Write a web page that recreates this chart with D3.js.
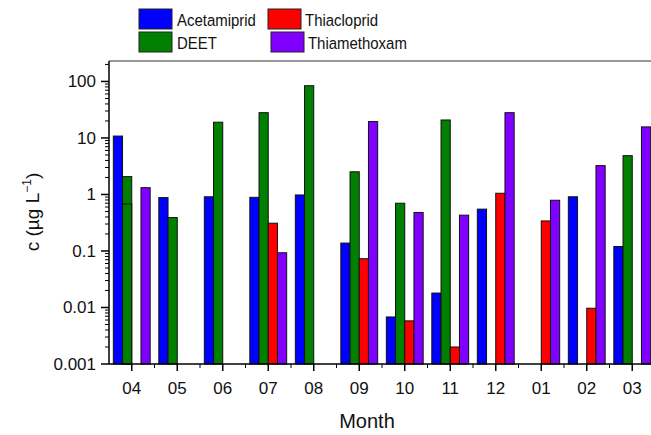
<!DOCTYPE html>
<html>
<head>
<meta charset="utf-8">
<script src="https://cdn.jsdelivr.net/npm/d3@7"></script>
<style>
  html, body { margin: 0; padding: 0; background: #ffffff; }
  svg { display: block; font-family: "Liberation Sans", Arial, sans-serif; }
</style>
</head>
<body>
<svg id="chart" width="651" height="435"></svg>
<script>
// Monthly concentrations (µg/L); null = not detected
const months = ["04", "05", "06", "07", "08", "09", "10", "11", "12", "01", "02", "03"];
const seriesNames = ["Acetamiprid", "DEET", "Thiacloprid", "Thiamethoxam"];
const acetamiprid  = [10.8, 0.88, 0.91, 0.89, 0.98, 0.138, 0.0068, 0.018, 0.55, null, 0.91, 0.12];
const deet         = [2.07, 0.39, 19, 28, 84, 2.52, 0.70, 20.8, null, null, null, 4.86];
const thiacloprid  = [null, null, null, 0.31, null, 0.073, 0.0058, 0.002, 1.05, 0.34, 0.0097, null];
const thiamethoxam = [1.32, null, null, 0.093, null, 19.5, 0.48, 0.43, 28, 0.79, 3.24, 15.7];
// second DEET measurement for April, drawn inside the first bar
const deetRepeat   = [0.68, null, null, null, null, null, null, null, null, null, null, null];
const yTickValues  = [0.001, 0.01, 0.1, 1, 10, 100];
const yTickLabels  = ["0.001", "0.01", "0.1", "1", "10", "100"];
const colors = ["#0000ff", "#007f00", "#ff0000", "#8000ff"];

const svg = d3.select("#chart");
const margin = { left: 109, top: 61, bottom: 364, right: 655 };

const x = d3.scaleBand().domain(months).range([margin.left, margin.right])
  .paddingInner(0.19).paddingOuter(0.095);
const xs = d3.scaleBand().domain(seriesNames).range([0, x.bandwidth()]);
const y = d3.scaleLog().domain([0.001, 230]).range([margin.bottom, margin.top]);

const seriesValues = [acetamiprid, deet, thiacloprid, thiamethoxam];

// bars
const barData = [];
seriesValues.forEach((vals, si) => {
  vals.forEach((v, mi) => {
    if (v != null) barData.push({ month: months[mi], series: seriesNames[si], value: v, color: colors[si] });
  });
});
deetRepeat.forEach((v, mi) => {
  if (v != null) barData.push({ month: months[mi], series: "DEET", value: v, color: colors[1] });
});

svg.append("g").selectAll("rect").data(barData).join("rect")
  .attr("x", d => x(d.month) + xs(d.series))
  .attr("y", d => y(d.value))
  .attr("width", xs.bandwidth())
  .attr("height", d => y(0.001) - y(d.value))
  .attr("fill", d => d.color)
  .attr("stroke", "#111")
  .attr("stroke-width", 1);

// frame top line
svg.append("line")
  .attr("x1", margin.left).attr("x2", 651)
  .attr("y1", margin.top).attr("y2", margin.top)
  .attr("stroke", "#333").attr("stroke-width", 1.2);

// y axis (log) with minor ticks
const yAxis = svg.append("g").attr("transform", `translate(${margin.left},0)`);
const minorTicks = [];
yTickValues.forEach(d => { for (let k = 2; k <= 9; k++) { const v = d * k; if (v <= 230) minorTicks.push(v); } });
yAxis.selectAll(".minor").data(minorTicks).join("line")
  .attr("x1", -4).attr("x2", 0)
  .attr("y1", d => y(d)).attr("y2", d => y(d))
  .attr("stroke", "#000").attr("stroke-width", 1);
yAxis.selectAll(".major").data(yTickValues).join("line")
  .attr("x1", -8).attr("x2", 0)
  .attr("y1", d => y(d)).attr("y2", d => y(d))
  .attr("stroke", "#000").attr("stroke-width", 1.5);
yAxis.selectAll("text").data(yTickValues).join("text")
  .attr("x", -13).attr("y", d => y(d)).attr("dy", "0.35em")
  .attr("text-anchor", "end").attr("font-size", 17).attr("fill", "#111")
  .text((d, i) => yTickLabels[i]);
yAxis.append("line")
  .attr("x1", 0).attr("x2", 0).attr("y1", margin.top).attr("y2", margin.bottom)
  .attr("stroke", "#000").attr("stroke-width", 1.5);

// x axis
const xAxis = svg.append("g").attr("transform", `translate(0,${margin.bottom})`);
xAxis.append("line")
  .attr("x1", margin.left).attr("x2", 651).attr("y1", 0).attr("y2", 0)
  .attr("stroke", "#000").attr("stroke-width", 1.5);
const mids = months.slice(1).map(m => x(m) - x.step() * x.paddingInner() / 2);
xAxis.selectAll(".minor").data(mids).join("line")
  .attr("x1", d => d).attr("x2", d => d).attr("y1", 0).attr("y2", 4)
  .attr("stroke", "#000").attr("stroke-width", 1);
xAxis.selectAll(".major").data(months).join("line")
  .attr("x1", d => x(d) + x.bandwidth() / 2).attr("x2", d => x(d) + x.bandwidth() / 2)
  .attr("y1", 0).attr("y2", 7)
  .attr("stroke", "#000").attr("stroke-width", 1.5);
xAxis.selectAll("text").data(months).join("text")
  .attr("x", d => x(d) + x.bandwidth() / 2).attr("y", 30)
  .attr("text-anchor", "middle").attr("font-size", 17).attr("fill", "#111")
  .text(d => d);

// axis titles
svg.append("text")
  .attr("x", 367).attr("y", 428).attr("text-anchor", "middle")
  .attr("font-size", 20).attr("fill", "#111").text("Month");

const yTitle = svg.append("text")
  .attr("transform", "translate(39,212) rotate(-90)")
  .attr("text-anchor", "middle").attr("font-size", 19).attr("fill", "#111");
yTitle.append("tspan").text("c (µg L");
yTitle.append("tspan").attr("font-size", 12).attr("dy", -8).text("−1");
yTitle.append("tspan").attr("dy", 8).text(")");

// legend
const legendItems = [
  { name: "Acetamiprid", color: colors[0], x: 139, y: 9, tx: 177 },
  { name: "Thiacloprid", color: colors[2], x: 268, y: 9, tx: 305 },
  { name: "DEET", color: colors[1], x: 139, y: 32, tx: 177 },
  { name: "Thiamethoxam", color: colors[3], x: 271, y: 32, tx: 308 }
];
const lg = svg.append("g").selectAll("g").data(legendItems).join("g");
lg.append("rect")
  .attr("x", d => d.x).attr("y", d => d.y).attr("width", 33).attr("height", 20)
  .attr("fill", d => d.color).attr("stroke", "#222").attr("stroke-width", 1);
lg.append("text")
  .attr("x", d => d.tx).attr("y", d => d.y + 17)
  .attr("font-size", 17).attr("fill", "#111")
  .attr("transform", d => `translate(${d.tx},0) scale(0.88,1) translate(${-d.tx},0)`)
  .text(d => d.name);
</script>
</body>
</html>
